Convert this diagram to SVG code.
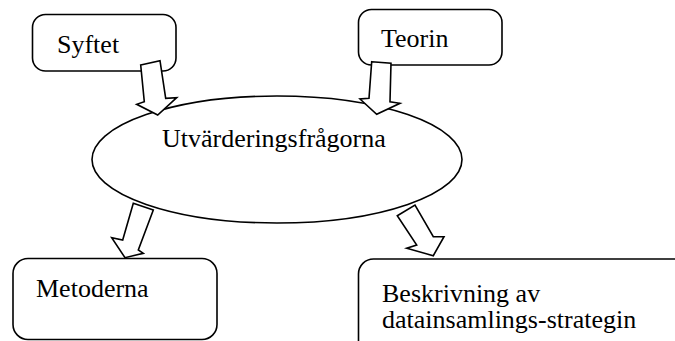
<svg xmlns="http://www.w3.org/2000/svg" width="675" height="341" viewBox="0 0 675 341">
  <style>
    .box { fill: #ffffff; stroke: #000000; stroke-width: 1.6; }
    .arrow { fill: #ffffff; stroke: #000000; stroke-width: 1.6; stroke-linejoin: miter; }
    text { font-family: 'Liberation Serif', 'Times New Roman', Times, serif; font-size: 26px; fill: #000000; }
  </style>
  <rect width="675" height="341" fill="#ffffff"/>

  <g id="node-syftet">
    <rect class="box" x="32.5" y="14.5" width="143.5" height="56.5" rx="13" ry="13"/>
    <text x="57" y="53">Syftet</text>
  </g>

  <g id="node-teorin">
    <rect class="box" x="358.5" y="9.5" width="143.5" height="55.5" rx="13" ry="13"/>
    <text x="381" y="47">Teorin</text>
  </g>

  <g id="node-fragorna">
    <ellipse class="box" cx="277" cy="159.5" rx="185" ry="63.5"/>
    <text x="162" y="147">Utvärderingsfrågorna</text>
  </g>

  <g id="node-metoderna">
    <rect class="box" x="13" y="258.5" width="204" height="81" rx="15" ry="15"/>
    <text x="36" y="297">Metoderna</text>
  </g>

  <g id="node-beskrivning">
    <rect class="box" x="358.5" y="259" width="330" height="110" rx="15" ry="15"/>
    <text x="382" y="302">Beskrivning av</text>
    <text x="382" y="328">datainsamlings-strategin</text>
  </g>

  <g id="connectors">
    <!-- Syftet -> Utvärderingsfrågorna -->
    <polygon class="arrow" points="140.7,65 160,60.7 165.7,98.3 176.7,97.7 157.7,115 136.7,104.3 144.3,101.7"/>
    <!-- Teorin -> Utvärderingsfrågorna -->
    <polygon class="arrow" points="371.7,61.7 391,63.3 390,101.7 400,103.3 376.7,114.3 360,99 369,98.3"/>
    <!-- Utvärderingsfrågorna -> Metoderna -->
    <polygon class="arrow" points="133.3,203.3 153.3,210 138.3,250 143.3,253.3 125,257.7 111.7,237.7 122.7,240"/>
    <!-- Utvärderingsfrågorna -> Beskrivning -->
    <polygon class="arrow" points="397.3,215.7 415,205 433.3,236.7 444,236.7 433.3,255.7 406.7,248.3 416.7,245"/>
  </g>
</svg>
